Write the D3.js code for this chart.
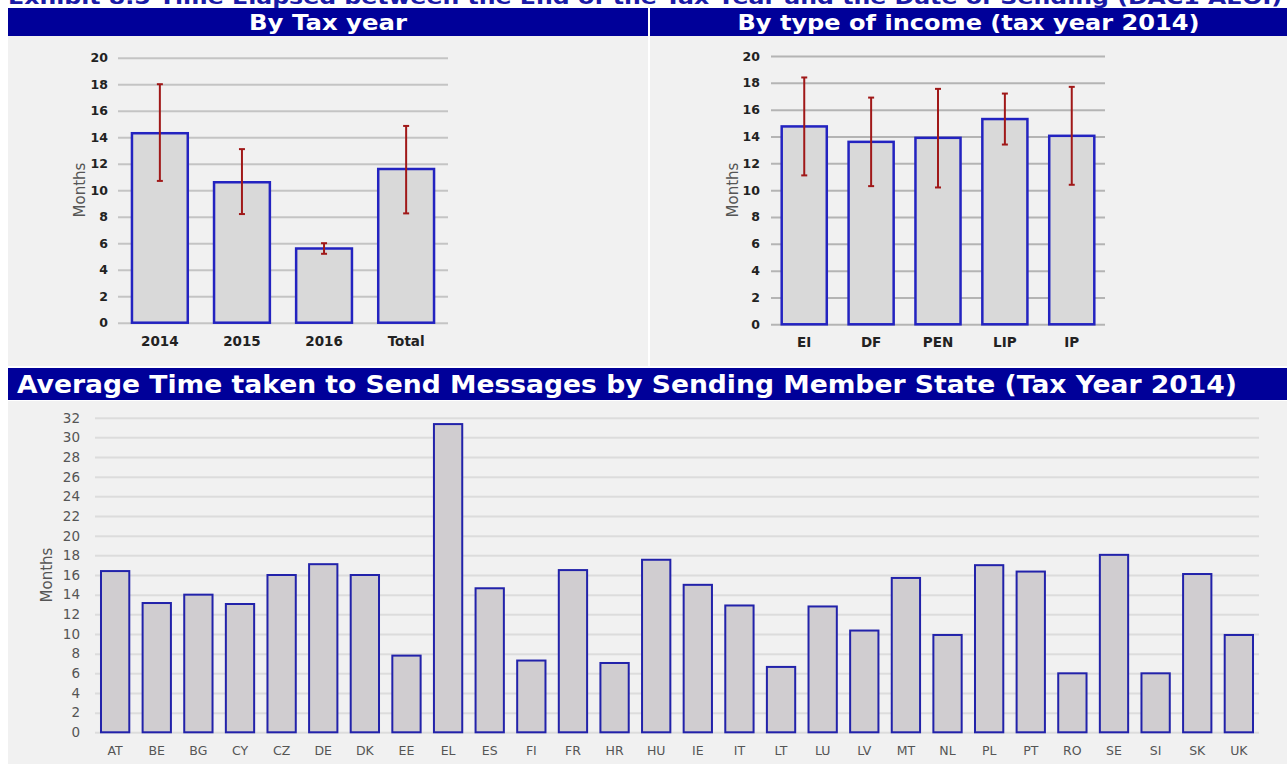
<!DOCTYPE html>
<html>
<head>
<meta charset="utf-8">
<script src="https://cdn.jsdelivr.net/npm/d3@7"></script>
<style>
  html, body { margin: 0; padding: 0; background: #ffffff; }
  svg { display: block; }
  text { font-family: "DejaVu Sans", Verdana, sans-serif; }
</style>
</head>
<body>
<svg id="chart" width="1287" height="764"></svg>
<script>
// ---- Data ----
const exhibitTitle = "Exhibit 8.5 Time Elapsed between the End of the Tax Year and the Date of Sending (DAC1 AEOI)";

const yearTitle = "By Tax year";
const years = ["2014", "2015", "2016", "Total"];
const yearMeans = [14.3, 10.6, 5.6, 11.6];
const yearLow = [10.7, 8.2, 5.2, 8.25];
const yearHigh = [18.0, 13.1, 6.0, 14.85];

const incomeTitle = "By type of income (tax year 2014)";
const incomeTypes = ["EI", "DF", "PEN", "LIP", "IP"];
const incomeMeans = [14.75, 13.6, 13.9, 15.3, 14.05];
const incomeLow = [11.1, 10.3, 10.2, 13.4, 10.4];
const incomeHigh = [18.4, 16.9, 17.55, 17.2, 17.7];

const stateTitle = "Average Time taken to Send Messages by Sending Member State (Tax Year 2014)";
const states = ["AT","BE","BG","CY","CZ","DE","DK","EE","EL","ES","FI","FR","HR","HU","IE","IT","LT","LU","LV","MT","NL","PL","PT","RO","SE","SI","SK","UK"];
const stateMonths = [16.4, 13.15, 14.0, 13.05, 16.0, 17.1, 16.0, 7.8, 31.35, 14.65, 7.3, 16.5, 7.05, 17.55, 15.0, 12.9, 6.65, 12.8, 10.35, 15.7, 9.9, 17.0, 16.35, 6.0, 18.05, 6.0, 16.1, 9.9];

const topTicks = [0, 2, 4, 6, 8, 10, 12, 14, 16, 18, 20];
const bottomTicks = [0, 2, 4, 6, 8, 10, 12, 14, 16, 18, 20, 22, 24, 26, 28, 30, 32];
const axisLabel = "Months";

// ---- Drawing ----
const svg = d3.select("#chart");
const headerBlue = "#000099";
const panelBg = "#f1f1f1";

// Exhibit heading running off the top edge
svg.append("text")
  .attr("x", 8).attr("y", 4)
  .attr("font-size", 20).attr("font-weight", "bold")
  .attr("fill", "#1a1aa6")
  .attr("textLength", 1274).attr("lengthAdjust", "spacingAndGlyphs")
  .text(exhibitTitle);

// Panels and header bars
svg.append("rect").attr("x", 8).attr("y", 36).attr("width", 640).attr("height", 330).attr("fill", panelBg);
svg.append("rect").attr("x", 650).attr("y", 36).attr("width", 637).attr("height", 330).attr("fill", panelBg);
svg.append("rect").attr("x", 8).attr("y", 401).attr("width", 1279).attr("height", 363).attr("fill", panelBg);

function headerBar(x, y, w, h, label, opts) {
  svg.append("rect").attr("x", x).attr("y", y).attr("width", w).attr("height", h).attr("fill", headerBlue);
  const t = svg.append("text")
    .attr("y", y + h / 2)
    .attr("dy", "0.36em")
    .attr("font-size", opts.size).attr("font-weight", "bold")
    .attr("fill", "#ffffff")
    .attr("textLength", opts.len).attr("lengthAdjust", "spacingAndGlyphs")
    .text(label);
  if (opts.anchor === "middle") t.attr("x", x + w / 2).attr("text-anchor", "middle");
  else t.attr("x", opts.x);
}
headerBar(8, 8, 640, 28, yearTitle, { size: 22, len: 158, anchor: "middle" });
headerBar(650, 8, 637, 28, incomeTitle, { size: 22, len: 462, anchor: "middle" });
headerBar(8, 368, 1279, 32, stateTitle, { size: 24, len: 1220, x: 17 });

// Bar chart with optional error bars
function barChart(cfg) {
  const g = svg.append("g");
  const x = d3.scaleBand().domain(cfg.cats).range(cfg.xRange)
    .paddingInner(cfg.padIn).paddingOuter(cfg.padOut);
  const y = d3.scaleLinear().domain([0, cfg.max]).range(cfg.yRange);

  // gridlines
  const yAxis = d3.axisLeft(y).tickValues(cfg.ticks)
    .tickSize(-(cfg.xRange[1] - cfg.xRange[0])).tickPadding(cfg.tickPad);
  const ya = g.append("g").attr("transform", `translate(${cfg.xRange[0]},0)`).call(yAxis);
  ya.select(".domain").remove();
  ya.selectAll(".tick line").attr("stroke", cfg.gridColor).attr("stroke-width", 2);
  ya.selectAll(".tick text")
    .attr("font-family", "DejaVu Sans, Verdana, sans-serif")
    .attr("font-size", cfg.tickSize).attr("font-weight", cfg.tickWeight)
    .attr("fill", cfg.tickColor);

  // bars
  g.selectAll("rect.bar").data(cfg.values).enter().append("rect")
    .attr("class", "bar")
    .attr("x", (d, i) => x(cfg.cats[i]))
    .attr("width", x.bandwidth())
    .attr("y", d => y(d))
    .attr("height", d => y(0) - y(d))
    .attr("fill", cfg.barFill)
    .attr("stroke", cfg.barStroke)
    .attr("stroke-width", cfg.barStrokeW);

  // error bars
  if (cfg.low) {
    const eg = g.append("g").attr("stroke", "#a01818").attr("stroke-width", 2);
    cfg.cats.forEach((c, i) => {
      const cx = x(c) + x.bandwidth() / 2;
      eg.append("line").attr("x1", cx).attr("x2", cx).attr("y1", y(cfg.low[i])).attr("y2", y(cfg.high[i]));
      [cfg.low[i], cfg.high[i]].forEach(v => {
        eg.append("line").attr("x1", cx - 3).attr("x2", cx + 3).attr("y1", y(v)).attr("y2", y(v));
      });
    });
  }

  // category axis
  const xa = g.append("g").attr("transform", `translate(0,${cfg.yRange[0]})`)
    .call(d3.axisBottom(x).tickSize(0).tickPadding(cfg.xLabelPad));
  xa.select(".domain").remove();
  xa.selectAll(".tick text")
    .attr("font-family", "DejaVu Sans, Verdana, sans-serif")
    .attr("font-size", cfg.xLabelSize).attr("font-weight", cfg.tickWeight)
    .attr("fill", cfg.tickColor);

  // axis title
  const midY = (cfg.yRange[0] + cfg.yRange[1]) / 2;
  g.append("text")
    .attr("transform", `translate(${cfg.titleX},${cfg.titleY !== undefined ? cfg.titleY : midY}) rotate(-90)`)
    .attr("text-anchor", "middle").attr("dy", "0.35em")
    .attr("font-size", 15).attr("fill", "#555")
    .text(axisLabel);
}

barChart({
  cats: years, values: yearMeans, low: yearLow, high: yearHigh,
  xRange: [118, 448], yRange: [322.7, 57.7], max: 20, ticks: topTicks,
  padIn: 0.32, padOut: 0.17, tickPad: 10,
  gridColor: "#c4c4c4", tickSize: 12.5, tickWeight: "bold", tickColor: "#222",
  barFill: "#d9d9d9", barStroke: "#2323c0", barStrokeW: 2.5,
  xLabelPad: 14, xLabelSize: 13.5, titleX: 80, titleY: 190
});

barChart({
  cats: incomeTypes, values: incomeMeans, low: incomeLow, high: incomeHigh,
  xRange: [771, 1105], yRange: [324.3, 56], max: 20, ticks: topTicks,
  padIn: 0.326, padOut: 0.16, tickPad: 11,
  gridColor: "#b4b4b4", tickSize: 12.5, tickWeight: "bold", tickColor: "#222",
  barFill: "#d9d9d9", barStroke: "#2323c0", barStrokeW: 2.5,
  xLabelPad: 13, xLabelSize: 13.5, titleX: 733, titleY: 190
});

barChart({
  cats: states, values: stateMonths,
  xRange: [95, 1259], yRange: [732.3, 417.7], max: 32, ticks: bottomTicks,
  padIn: 0.32, padOut: 0.144, tickPad: 15,
  gridColor: "#dcdcdc", tickSize: 13.5, tickWeight: "normal", tickColor: "#555",
  barFill: "#d0cdd0", barStroke: "#2222aa", barStrokeW: 2,
  xLabelPad: 14, xLabelSize: 12.5, titleX: 47, titleY: 575
});
</script>
</body>
</html>
